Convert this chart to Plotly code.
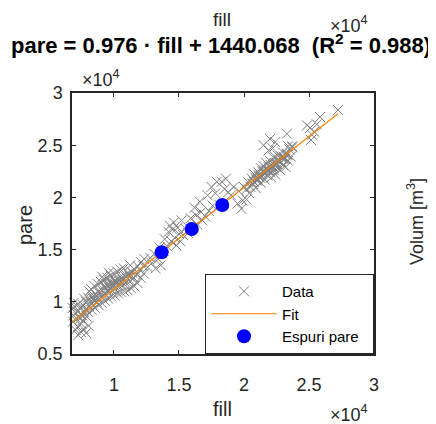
import plotly.graph_objects as go

# ---------------- data ----------------
fill_data = [
    6850, 6880, 6820, 6900, 7050, 7020, 7080, 7000, 7250, 7220, 7280, 7200, 7260,
    7450, 7480, 7420, 7460, 7650, 7620, 7680, 7600, 7700, 7850, 7880, 7820, 7860,
    8050, 8020, 8080, 8000, 8100, 8300, 8270, 8330, 8250, 8550, 8520, 8580, 8500,
    8800, 8770, 8830, 8750, 9050, 9020, 9080, 9000, 9100, 9300, 9270, 9330, 9250,
    9550, 9520, 9580, 9500, 9600, 9800, 9770, 9830, 9750, 10050, 10020, 10080, 10000,
    10300, 10270, 10330, 10250, 10550, 10520, 10580, 10500, 10800, 10770, 10830, 10750,
    11050, 11020, 11080, 11300, 11270, 11330, 11250, 11550, 11520, 11580, 11800, 11770,
    11830, 12050, 12020, 12080, 12300, 12270, 12330,
    8400, 8900, 9400, 9900, 10400, 10900, 11400, 7550, 7950, 8650, 9150, 9650, 10150,
    10650, 11150,
    9400, 9700, 10200, 10700, 11200, 8600, 8200, 7400,
    12600, 12800, 12900, 13100, 13200, 13400, 13500, 13600, 13800, 13900, 14100, 14200,
    14300, 14400, 14500, 14600, 14700, 14800, 14900, 15000, 15100, 15200, 15300, 15500,
    15700, 15900, 16100, 16200, 16300, 16400, 16600, 16700, 16800, 17000, 17200, 17300,
    17500, 17600, 17800, 17900, 18100, 18300, 18600, 18500, 18800, 19000, 19200, 19500,
    19600, 19800, 19900, 20000, 20200, 20300, 20200, 20400,
    20500, 20600, 20700, 20800, 20900, 21000, 21100, 21200, 21300, 21300, 21400, 21500,
    21600, 21600, 21700, 21800, 21900, 22000, 22000, 22100, 22200, 22300, 22300, 22400,
    22500, 22600, 22600, 22700, 22800, 22900, 23000, 23000, 23100, 23200, 23300, 23400,
    23500, 23600, 23700, 23400, 21150, 21450, 21750, 22050, 22350, 22650, 22950, 23250,
    20750, 21050, 21350, 21650, 21950, 22250, 22550, 22850, 23150,
    20650, 20950, 21250, 21550, 21850, 22150, 22450, 22750, 23050, 23350,
    20850, 21150, 21450, 21750, 22050, 22350, 22650, 22950,
    21500, 21900, 22000, 22400, 22200, 23300, 23700,
    24850, 25080, 25230, 25400, 25600, 25850, 25150, 27230,
]
pare_data = [
    8100, 8700, 9400, 9900, 7300, 8300, 8900, 9500, 6800, 7600, 8500, 9100, 9800,
    7100, 7900, 8800, 9400, 7400, 8200, 9000, 9700, 10300, 7000, 8600, 9300, 10000,
    7700, 9000, 9600, 10400, 11000, 9200, 9800, 10500, 11200, 9400, 10100, 10700, 11500,
    9700, 10400, 11000, 11700, 9900, 10500, 11100, 11900, 12400, 10100, 10800, 11400, 12100,
    10300, 11000, 11600, 12300, 12800, 10500, 11200, 11800, 12500, 10600, 11300, 12000, 12700,
    10800, 11500, 12200, 12900, 10900, 11600, 12300, 13100, 11000, 11700, 12500, 13200,
    11100, 11900, 12700, 11300, 12000, 12900, 13500, 11500, 12300, 13100, 11800, 12600,
    13400, 12300, 13000, 13800, 12700, 13400, 14100,
    10300, 10800, 11200, 11600, 12000, 12400, 12800, 8700, 9100, 10000, 10600, 11300, 11800,
    12100, 12600,
    11700, 11900, 11900, 12100, 12400, 10400, 10000, 8400,
    13300, 14200, 13700, 14600, 13200, 14100, 15200, 13500, 14900, 16000, 15300, 16700,
    17300, 15800, 16900, 17600, 16100, 15400, 17100, 16500, 15800, 17800, 16400, 17000,
    16600, 18000, 17200, 19000, 18300, 17400, 19600, 18600, 17800, 18200, 20200, 18700,
    21000, 19200, 20400, 21500, 19300, 21500, 21800, 20800, 20500, 20200, 21000, 19400,
    20600, 18900, 19700, 21000, 20800, 21500, 19800, 20400,
    21000, 21800, 21300, 22200, 20900, 21600, 22400, 21900, 22800, 21400, 22200, 23000,
    21700, 22600, 23300, 22100, 22900, 22400, 23500, 21900, 23000, 22600, 23800, 22200,
    23300, 22800, 24000, 23400, 22600, 23900, 23100, 24300, 23700, 22900, 24200, 23500,
    24600, 23900, 24800, 24900, 22100, 22500, 22700, 23100, 23300, 23600, 23800, 24100,
    21500, 21800, 22000, 22300, 22600, 22900, 23200, 23400, 23700,
    21300, 21700, 22100, 22400, 22600, 23000, 23200, 23500, 23900, 24100,
    21900, 22000, 22400, 22600, 22900, 23100, 23500, 23700,
    25000, 24500, 25600, 25300, 24700, 26100, 24900,
    26900, 26650, 26000, 26300, 27000, 27700, 25500, 28370,
]

espuri_fill = [13670, 15980, 18330]
espuri_pare = [14740, 16970, 19270]

fit_slope = 0.976
fit_intercept = 1440.068
r_squared = 0.988

x_tickvals = [10000, 15000, 20000, 25000, 30000]
x_ticktext = ["1", "1.5", "2", "2.5", "3"]
y_tickvals = [5000, 10000, 15000, 20000, 25000, 30000]
y_ticktext = ["0.5", "1", "1.5", "2", "2.5", "3"]

fit_x = [min(fill_data), max(fill_data)]
fit_y = [fit_slope * v + fit_intercept for v in fit_x]

# ---------------- layout geometry ----------------
# the page body has an 8px margin, so the figure is shifted by 8px
OFF = 8
W, H = 436 - OFF, 424 - OFF
L, R, T, B = 72, 374, 93, 354   # plot area in page pixels


def px(xpix):
    return (xpix - L) / (R - L)


def py(ypix):
    return (B - ypix) / (B - T)


FONT = "Liberation Sans, Arial, sans-serif"
AX = "#262626"

fig = go.Figure()
fig.add_trace(go.Scatter(
    x=fill_data, y=pare_data, mode="markers", name="Data",
    marker=dict(symbol="x-thin-open", size=10, color="rgb(128,128,128)",
                line=dict(width=1, color="rgb(128,128,128)")),
    cliponaxis=False,
))
fig.add_trace(go.Scatter(
    x=fit_x, y=fit_y, mode="lines", name="Fit",
    line=dict(color="rgb(255,128,0)", width=1.2),
))
fig.add_trace(go.Scatter(
    x=espuri_fill, y=espuri_pare, mode="markers", name="Espuri pare\u00a0\u00a0",
    marker=dict(symbol="circle", size=14, color="#0000ff"),
))

axis_common = dict(
    showline=True, linecolor=AX, linewidth=1.5, mirror="ticks",
    ticks="inside", ticklen=4, tickwidth=1, tickcolor=AX,
    showgrid=False, zeroline=False,
    tickfont=dict(family=FONT, size=18, color=AX),
)

fig.update_layout(
    width=W, height=H, autosize=False,
    margin=dict(l=L - OFF, r=(W + OFF) - R, t=T - OFF, b=(H + OFF) - B),
    paper_bgcolor="white", plot_bgcolor="white",
    xaxis=dict(range=[6770, 30000], tickvals=x_tickvals, ticktext=x_ticktext,
               ticklabelstandoff=14, **axis_common),
    yaxis=dict(range=[5000, 30000], tickvals=y_tickvals, ticktext=y_ticktext,
               ticklabelstandoff=4, **axis_common),
    showlegend=True,
    legend=dict(
        x=px(205), y=py(274), xanchor="left", yanchor="top",
        bgcolor="white", bordercolor="#262626", borderwidth=1,
        font=dict(family=FONT, size=15, color="black"),
        itemwidth=66, tracegroupgap=0,
    ),
)

ann = []
# title
ann.append(dict(
    text="<b>pare = 0.976 · fill + 1440.068\u00a0\u00a0(R<sup>2</sup> = 0.988)</b>",
    x=px(221), y=py(44), xref="paper", yref="paper", xanchor="center", yanchor="middle",
    showarrow=False, font=dict(family=FONT, size=22, color="black"),
))
# upper subplot remnants
ann.append(dict(text="fill", x=px(222), y=py(19), xref="paper", yref="paper",
                xanchor="center", yanchor="middle", showarrow=False,
                font=dict(family=FONT, size=19, color=AX)))
ann.append(dict(text="×10<sup>4</sup>", x=px(328), y=py(38), xref="paper", yref="paper",
                xanchor="left", yanchor="bottom", showarrow=False,
                font=dict(family=FONT, size=18, color=AX)))
# y exponent
ann.append(dict(text="×10<sup>4</sup>", x=px(80), y=py(92), xref="paper", yref="paper",
                xanchor="left", yanchor="bottom", showarrow=False,
                font=dict(family=FONT, size=18, color=AX)))
# x exponent
ann.append(dict(text="×10<sup>4</sup>", x=px(328), y=py(413), xref="paper", yref="paper",
                xanchor="left", yanchor="middle", showarrow=False,
                font=dict(family=FONT, size=18, color=AX)))
# axis labels
ann.append(dict(text="fill", x=px(222), y=py(409), xref="paper", yref="paper",
                xanchor="center", yanchor="middle", showarrow=False,
                font=dict(family=FONT, size=20, color=AX)))
ann.append(dict(text="pare", x=px(25), y=py(225), xref="paper", yref="paper",
                xanchor="center", yanchor="middle", showarrow=False, textangle=-90,
                font=dict(family=FONT, size=20, color=AX)))
# neighbouring subplot label
ann.append(dict(text="Volum [m<sup>3</sup>]", x=px(415), y=py(222), xref="paper", yref="paper",
                xanchor="center", yanchor="middle", showarrow=False, textangle=-90,
                font=dict(family=FONT, size=18, color=AX)))
fig.update_layout(annotations=ann)

fig.write_html("out.html")
